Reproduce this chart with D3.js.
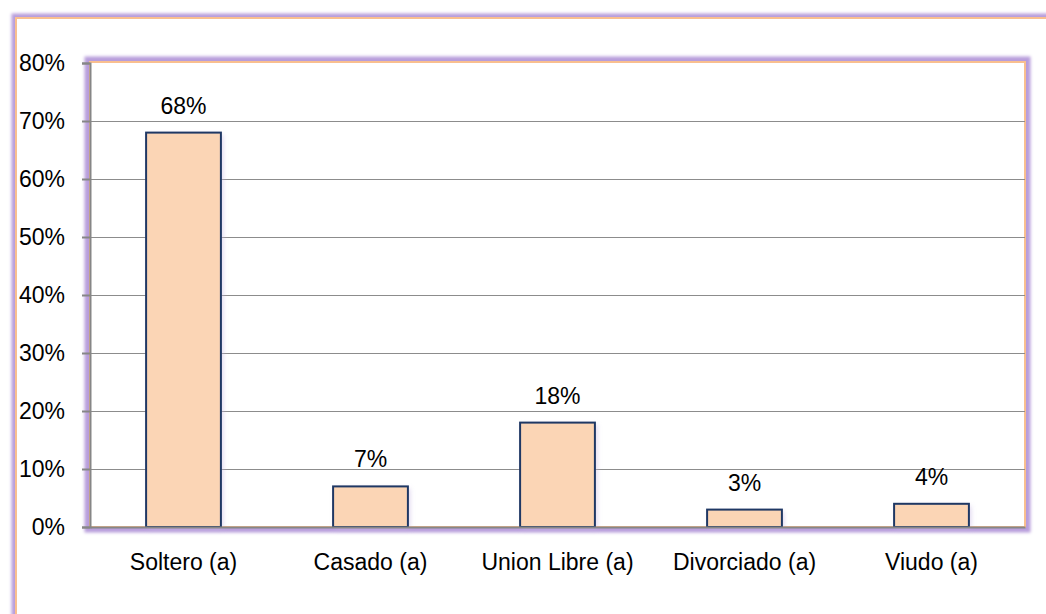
<!DOCTYPE html>
<html><head><meta charset="utf-8">
<script src="https://cdn.jsdelivr.net/npm/d3@7"></script>
<style>html,body{margin:0;padding:0;background:#fff;}svg{display:block;}</style>
</head><body>
<svg id="chart" width="1046" height="614"></svg>
<script>
const categories = ["Soltero (a)", "Casado (a)", "Union Libre (a)", "Divorciado (a)", "Viudo (a)"];
const values = [0.68, 0.07, 0.18, 0.03, 0.04];
const valueLabels = ["68%", "7%", "18%", "3%", "4%"];
const yTicks = [0, 0.1, 0.2, 0.3, 0.4, 0.5, 0.6, 0.7, 0.8];

const W = 1046, H = 614;
const svg = d3.select("#chart");
const FONT = "'Liberation Sans', Arial, sans-serif";
const plot = {left: 90, right: 1025, top: 63, bottom: 527};

const defs = svg.append("defs");
const glow = defs.append("filter").attr("id", "glow").attr("x", "-10%").attr("y", "-10%").attr("width", "120%").attr("height", "120%");
glow.append("feGaussianBlur").attr("stdDeviation", 1.8);
const sh = defs.append("filter").attr("id", "barsh").attr("x", "-20%").attr("y", "-20%").attr("width", "140%").attr("height", "140%");
sh.append("feGaussianBlur").attr("stdDeviation", 2.5);

svg.append("rect").attr("width", W).attr("height", H).attr("fill", "#fff");

// outer chart frame
svg.append("rect").attr("x", 16).attr("y", 18).attr("width", W + 20).attr("height", H + 20)
  .attr("fill", "none").attr("stroke", "#b79ddb").attr("stroke-width", 9).attr("filter", "url(#glow)");
svg.append("rect").attr("x", 16).attr("y", 18).attr("width", W + 20).attr("height", H + 20)
  .attr("fill", "#fff").attr("stroke", "#f9bf8f").attr("stroke-width", 2);

// plot area frame
svg.append("rect").attr("x", plot.left - 1).attr("y", plot.top - 2).attr("width", plot.right - plot.left + 2).attr("height", plot.bottom - plot.top + 3)
  .attr("fill", "none").attr("stroke", "#b79ddb").attr("stroke-width", 9).attr("filter", "url(#glow)");
svg.append("rect").attr("x", plot.left).attr("y", plot.top - 1).attr("width", plot.right - plot.left).attr("height", plot.bottom - plot.top + 1)
  .attr("fill", "#fff").attr("stroke", "#f9bf8f").attr("stroke-width", 2);

const x = d3.scaleBand().domain(categories).range([plot.left, plot.right]).paddingInner(0.6).paddingOuter(0.3);
const y = d3.scaleLinear().domain([0, 0.8]).range([plot.bottom, plot.top]);

// gridlines
svg.append("g").selectAll("line").data(yTicks.filter(t => t > 0 && t < 0.8)).join("line")
  .attr("x1", plot.left).attr("x2", plot.right)
  .attr("y1", d => Math.round(y(d)) + 0.5).attr("y2", d => Math.round(y(d)) + 0.5)
  .attr("stroke", "#8c8c8c").attr("stroke-width", 1);

// bar shadows
svg.append("g").selectAll("rect").data(values).join("rect")
  .attr("x", (d, i) => x(categories[i]) + 2).attr("y", d => y(d) + 2)
  .attr("width", x.bandwidth()).attr("height", d => plot.bottom - y(d))
  .attr("fill", "#c8b8e4").attr("opacity", 0.6).attr("filter", "url(#barsh)");

// bars
svg.append("g").selectAll("rect").data(values).join("rect")
  .attr("x", (d, i) => x(categories[i])).attr("y", d => y(d))
  .attr("width", x.bandwidth()).attr("height", d => plot.bottom - y(d))
  .attr("fill", "#fbd5b5").attr("stroke", "#1f3864").attr("stroke-width", 2);

// axes
const yAxis = d3.axisLeft(y).tickValues(yTicks).tickSize(8).tickPadding(17).tickFormat(d3.format(".0%"));
const gy = svg.append("g").attr("transform", `translate(${plot.left},0)`).call(yAxis);
gy.select(".domain").attr("stroke", "#868686").attr("stroke-width", 2);
gy.selectAll(".tick line").attr("stroke", "#868686").attr("stroke-width", 2);
gy.selectAll(".tick text").attr("font-family", FONT).attr("font-size", 23).attr("fill", "#000");

const xAxis = d3.axisBottom(x).tickSize(0).tickPadding(27);
const gx = svg.append("g").attr("transform", `translate(0,${plot.bottom})`).call(xAxis);
gx.select(".domain").attr("stroke", "#868686").attr("stroke-width", 2);
gx.selectAll(".tick text").attr("font-family", FONT).attr("font-size", 23).attr("fill", "#000");

// value labels
svg.append("g").selectAll("text").data(values).join("text")
  .attr("x", (d, i) => x(categories[i]) + x.bandwidth() / 2)
  .attr("y", d => y(d) - 19)
  .attr("text-anchor", "middle").attr("font-family", FONT).attr("font-size", 23).attr("fill", "#000")
  .text((d, i) => valueLabels[i]);
</script>
</body></html>
